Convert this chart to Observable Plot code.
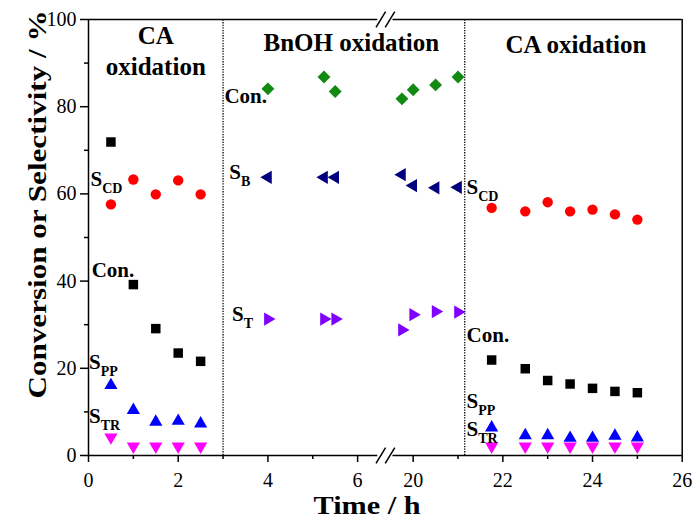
<!DOCTYPE html>
<html><head><meta charset="utf-8">
<script src="https://cdn.jsdelivr.net/npm/d3@7"></script>
<script src="https://cdn.jsdelivr.net/npm/@observablehq/plot@0.6"></script>
<style>body{margin:0;background:#fff}</style>
</head><body><div id="chart"></div>
<script>
// ---- data ----
const caTime1 = [0.5, 1, 1.5, 2, 2.5];
const caCon1  = [71.9, 39.2, 29.1, 23.5, 21.6];
const caScd1  = [57.6, 63.3, 59.9, 63.1, 59.9];
const caSpp1  = [16.1, 10.4, 7.7, 7.9, 7.3];
const caStr1  = [4.2, 2.1, 2.1, 2.1, 2.1];

const bnTime  = [4, 5.25, 5.5, 19.75, 20, 20.5, 21];
const bnCon   = [84.1, 86.8, 83.5, 81.8, 83.9, 85.0, 86.8];
const bnSb    = [63.8, 63.8, 63.8, 64.4, 61.9, 61.4, 61.5];
const bnSt    = [31.3, 31.3, 31.3, 28.8, 32.3, 33.0, 32.9];

const caTime2 = [21.75, 22.5, 23, 23.5, 24, 24.5, 25];
const caCon2  = [21.9, 19.9, 17.2, 16.4, 15.4, 14.7, 14.4];
const caScd2  = [56.8, 56.0, 58.1, 56.0, 56.4, 55.3, 54.1];
const caSpp2  = [6.4, 4.6, 4.6, 4.0, 4.0, 4.5, 4.1];
const caStr2  = [2.1, 2.1, 2.1, 2.1, 2.1, 2.1, 2.1];

const xMajor = [0, 2, 4, 6, 20, 22, 24, 26];
const xMinor = [1, 3, 5, 21, 23, 25];
const yMajor = [0, 20, 40, 60, 80, 100];
const yMinor = [10, 30, 50, 70, 90];
const phaseBounds = [3, 21.15];
const breakAt = [6.45, 19.55];

const labelText = ["Con.", "S_B", "S_T", "S_CD", "Con.", "S_PP", "S_TR", "S_CD", "Con.", "S_PP", "S_TR"];
const labelX    = [3.03, 3.14, 3.20, 0.045, 0.07, 0.01, 0.01, 21.19, 21.19, 21.19, 21.19];
const labelY    = [82.5, 65.0, 32.4, 63.4, 42.4, 21.35, 9.1, 61.6, 27.5, 12.5, 6.05];

const sectionText = ["CA", "oxidation", "BnOH oxidation", "CA oxidation"];
const sectionX    = [1.5, 1.5, 5.86, 23.63];
const sectionY    = [96.3, 89.2, 94.66, 94.2];

// ---- helpers ----
const rows = (ts, vs) => ts.map((t, i) => ({t, v: vs[i]}));
const labels = labelText.map((s, i) => ({s, x: labelX[i], y: labelY[i]}));
const sections = sectionText.map((s, i) => ({s, x: sectionX[i], y: sectionY[i]}));

function triangle(angle) {
  const a = angle * Math.PI / 180, c = Math.cos(a), s = Math.sin(a);
  const sqrt3 = Math.sqrt(3);
  return {
    draw(ctx, size) {
      const y = -Math.sqrt(size / (sqrt3 * 3));
      const pts = [[0, y * 2], [-sqrt3 * y, -y], [sqrt3 * y, -y]];
      pts.forEach(([px, py], i) => {
        const rx = px * c - py * s, ry = px * s + py * c;
        i ? ctx.lineTo(rx, ry) : ctx.moveTo(rx, ry);
      });
      ctx.closePath();
    }
  };
}
const slash = {
  draw(ctx, size) {
    const r = Math.sqrt(size) / 2;
    ctx.moveTo(-r * 0.6, r); ctx.lineTo(r * 0.6, -r);
  }
};

const triUp = triangle(0), triDown = triangle(180), triLeft = triangle(-90), triRight = triangle(90);

const chart = Plot.plot({
  width: 695,
  height: 521,
  marginLeft: 88,
  marginRight: 13.3,
  marginTop: 19,
  marginBottom: 66,
  style: {fontFamily: "'Liberation Serif', 'Times New Roman', serif", background: "#fff", color: "#000"},
  x: {type: "linear", domain: [0, breakAt[0], breakAt[1], 26], range: [88, 377.3, 392.5, 681.7]},
  y: {domain: [0, 100]},
  marks: [
    // frame
    Plot.ruleX([0, 26], {y1: 0, y2: 100, strokeWidth: 1.5}),
    Plot.ruleY([0, 100], {x1: 0, x2: breakAt[0], strokeWidth: 1.5}),
    Plot.ruleY([0, 100], {x1: breakAt[1], x2: 26, strokeWidth: 1.5}),
    Plot.dot([0, 100], {x: breakAt[0], y: d => d, dx: 3, symbol: slash, r: 9, stroke: "#000", strokeWidth: 1.5, fill: "none"}),
    Plot.dot([0, 100], {x: breakAt[1], y: d => d, dx: -3, symbol: slash, r: 9, stroke: "#000", strokeWidth: 1.5, fill: "none"}),
    // phase separators
    Plot.ruleX(phaseBounds, {y1: 0, y2: 100, stroke: "#000", strokeWidth: 1.3, strokeDasharray: "1.3,1.3"}),
    // axes
    Plot.axisY({ticks: yMajor, tickSize: 8, tickPadding: 4, fontSize: 20, label: null, strokeWidth: 1.5}),
    Plot.axisY({ticks: yMinor, tickSize: 4, tickFormat: () => "", label: null, strokeWidth: 1.5}),
    Plot.axisX({ticks: xMajor, tickSize: 7, tickPadding: 10, fontSize: 20, label: null, strokeWidth: 1.5}),
    Plot.axisX({ticks: xMinor, tickSize: 4, tickFormat: () => "", label: null, strokeWidth: 1.5}),
    // CA oxidation 1
    Plot.dot(rows(caTime1, caCon1), {x: "t", y: "v", symbol: "square", r: 5.35, fill: "#000"}),
    Plot.dot(rows(caTime1, caScd1), {x: "t", y: "v", symbol: "circle", r: 5.2, fill: "#ff0000"}),
    Plot.dot(rows(caTime1, caSpp1), {x: "t", y: "v", symbol: triUp, r: 4.9, fill: "#0000ff"}),
    Plot.dot(rows(caTime1, caStr1), {x: "t", y: "v", symbol: triDown, r: 4.9, fill: "#ff00ff"}),
    // BnOH oxidation
    Plot.dot(rows(bnTime, bnCon), {x: "t", y: "v", symbol: "diamond2", r: 5.8, fill: "#128a12"}),
    Plot.dot(rows(bnTime, bnSb), {x: "t", y: "v", symbol: triLeft, r: 4.9, fill: "#00007f"}),
    Plot.dot(rows(bnTime, bnSt), {x: "t", y: "v", symbol: triRight, r: 4.9, fill: "#8000ff"}),
    // CA oxidation 2
    Plot.dot(rows(caTime2, caCon2), {x: "t", y: "v", symbol: "square", r: 5.35, fill: "#000"}),
    Plot.dot(rows(caTime2, caScd2), {x: "t", y: "v", symbol: "circle", r: 5.2, fill: "#ff0000"}),
    Plot.dot(rows(caTime2, caSpp2), {x: "t", y: "v", symbol: triUp, r: 4.9, fill: "#0000ff"}),
    Plot.dot(rows(caTime2, caStr2), {x: "t", y: "v", symbol: triDown, r: 4.9, fill: "#ff00ff"}),
    // texts
    Plot.text(sections, {x: "x", y: "y", text: "s", fontSize: 25, fontWeight: "bold", textAnchor: "middle", fill: "#000"}),
    Plot.text(labels, {x: "x", y: "y", text: "s", fontSize: 21, fontWeight: "bold", textAnchor: "start", fill: "#000"}),
    Plot.text(["Time / h"], {frameAnchor: "bottom", textAnchor: "middle", lineAnchor: "middle", dx: -18.3, dy: 50.5, fontSize: 26, fontWeight: "bold", fill: "#000"}),
    Plot.text(["Conversion or Selectivity / %"], {frameAnchor: "left", textAnchor: "middle", lineAnchor: "middle", rotate: -90, dx: -51.3, dy: -33, fontSize: 26, fontWeight: "bold", fill: "#000"})
  ]
});

// subscripts and title stretching
d3.select(chart).selectAll("text").each(function () {
  const t = this.textContent;
  if (/^S_/.test(t) && this.children.length === 0) {
    const [a, b] = t.split("_");
    this.textContent = a;
    d3.select(this).append("tspan").attr("dy", 7).attr("font-size", 14).text(b);
  } else if (t === "Time / h") {
    d3.select(this).attr("textLength", 107).attr("lengthAdjust", "spacingAndGlyphs");
  } else if (t === "Conversion or Selectivity / %") {
    d3.select(this).attr("textLength", 388).attr("lengthAdjust", "spacingAndGlyphs");
  }
});

document.getElementById("chart").appendChild(chart);
</script></body></html>
